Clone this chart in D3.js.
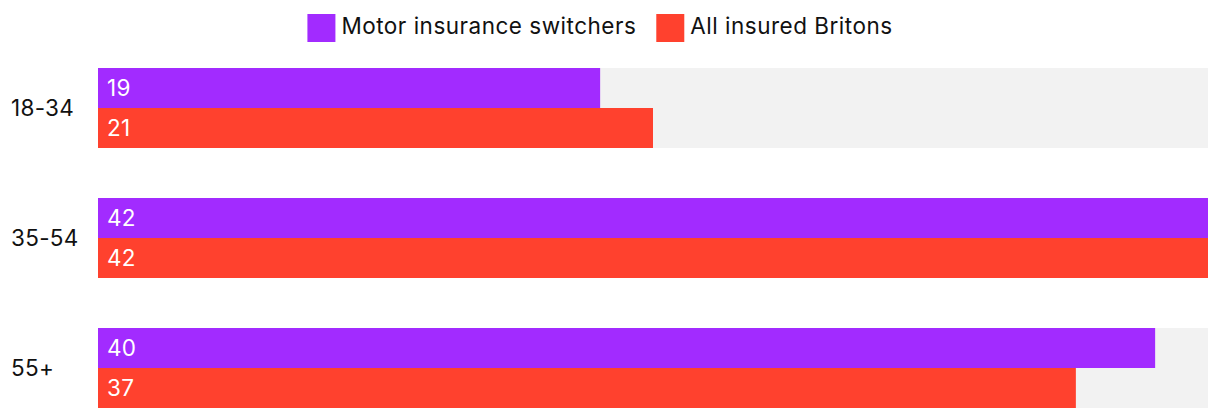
<!DOCTYPE html>
<html>
<head>
<meta charset="utf-8">
<script src="https://cdn.jsdelivr.net/npm/d3@7"></script>
<style>
  html, body { margin: 0; padding: 0; background: #fff; }
  svg { display: block; font-family: Inter, "Noto Sans", sans-serif; }
</style>
</head>
<body>
<svg id="chart" width="1220" height="420"></svg>
<script>
const categories = ["18-34", "35-54", "55+"];
const seriesNames = ["Motor insurance switchers", "All insured Britons"];
const switchers = [19, 42, 40];
const allInsured = [21, 42, 37];
const seriesColors = ["#A22BFF", "#FF412E"];

const seriesValues = [switchers, allInsured];
const maxVal = d3.max(seriesValues.flat());

const svg = d3.select("#chart");
const x = d3.scaleLinear().domain([0, maxVal]).range([98, 1208]);
const y = d3.scaleBand().domain(categories).range([68, 408]).paddingInner(50 / 130).paddingOuter(0);
const ySub = d3.scaleBand().domain(seriesNames).range([0, y.bandwidth()]);

const groups = svg.selectAll("g.group")
  .data(categories)
  .join("g")
  .attr("class", "group")
  .attr("transform", d => `translate(0,${y(d)})`);

groups.append("rect")
  .attr("x", x(0))
  .attr("y", 0)
  .attr("width", x(maxVal) - x(0))
  .attr("height", y.bandwidth())
  .attr("fill", "#F2F2F2");

groups.append("text")
  .attr("x", 11)
  .attr("y", y.bandwidth() / 2)
  .attr("dy", "0.36em")
  .attr("font-size", 22.5)
  .attr("letter-spacing", 0.3)
  .attr("fill", "#111")
  .text(d => d);

seriesNames.forEach((s, si) => {
  groups.append("rect")
    .attr("x", x(0))
    .attr("y", ySub(s))
    .attr("width", (d, i) => x(seriesValues[si][i]) - x(0))
    .attr("height", ySub.bandwidth())
    .attr("fill", seriesColors[si]);
  groups.append("text")
    .attr("x", x(0) + 9)
    .attr("y", ySub(s) + ySub.bandwidth() / 2)
    .attr("dy", "0.36em")
    .attr("font-size", 22.5)
    .attr("letter-spacing", 0.3)
    .attr("fill", "#fff")
    .text((d, i) => seriesValues[si][i]);
});

// Legend
const legend = svg.append("g").attr("class", "legend");
const items = legend.selectAll("g").data(seriesNames).join("g");
items.append("rect")
  .attr("width", 28).attr("height", 28)
  .attr("y", 14)
  .attr("fill", (d, i) => seriesColors[i]);
items.append("text")
  .attr("x", 34)
  .attr("y", 26)
  .attr("dy", "0.36em")
  .attr("font-size", 22.5)
  .attr("letter-spacing", 0.5)
  .attr("fill", "#111")
  .text(d => d);
const widths = [];
items.each(function () {
  const w = 34 + d3.select(this).select("text").node().getComputedTextLength();
  widths.push(w);
});
const gap = 20;
const total = d3.sum(widths) + gap * (widths.length - 1);
let start = 600 - total / 2;
items.attr("transform", (d, i) => {
  const t = `translate(${start},0)`;
  start += widths[i] + gap;
  return t;
});
</script>
</body>
</html>
